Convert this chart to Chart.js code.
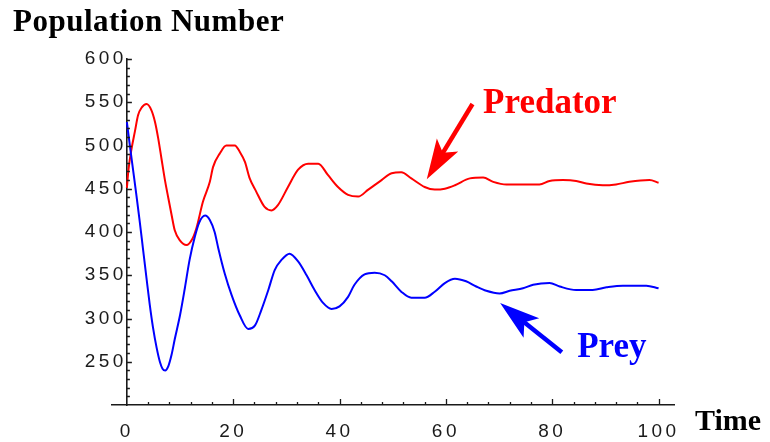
<!DOCTYPE html>
<html><head><meta charset="utf-8">
<script src="https://cdn.jsdelivr.net/npm/chart.js@4/dist/chart.umd.min.js"></script>
<style>html,body{margin:0;padding:0;background:#fff;overflow:hidden}</style>
</head><body>
<canvas id="c" width="770" height="442"></canvas>
<script>
// ---- data ----
const predatorTime   = [0, 0.3, 0.9, 1.5, 2.1, 2.8, 3.7, 4.6, 5.3, 5.9, 6.5, 7.1, 7.8, 8.4, 9.0, 10.0, 11.2, 12.3, 13.1, 14.3, 15.6, 16.2, 17.5, 18.7, 20.3, 21.2, 22.2, 23.1, 24.3, 25.9, 27.2, 28.4, 30.3, 32.2, 34.1, 36.0, 37.8, 39.7, 41.6, 43.5, 45.4, 47.9, 49.8, 51.6, 53.5, 56.0, 57.9, 59.8, 61.7, 64.5, 67.0, 68.9, 71.4, 74.5, 77.6, 79.5, 82.0, 84.5, 86.4, 89.5, 92.0, 94.5, 98.3, 100];
const predatorValues = [451, 472, 497, 516, 535, 544, 548, 541, 527, 508, 485, 462, 439, 420, 402, 390, 385, 392, 405, 435, 458, 475, 491, 500, 500, 493, 481, 462, 447, 429, 425, 431, 452, 472, 479, 479, 466, 452, 443, 441, 449, 460, 468, 469, 462, 452, 449, 450, 454, 462, 463, 458, 455, 455, 455, 459, 460, 459, 456, 454, 455, 458, 460, 457];
const preyTime   = [0, 0.6, 1.2, 1.8, 2.4, 3.0, 3.7, 4.3, 4.9, 5.6, 6.2, 6.7, 7.2, 7.8, 8.4, 9.0, 10.0, 10.9, 11.8, 12.8, 13.6, 14.7, 15.6, 16.5, 17.2, 18.4, 19.7, 21.2, 22.8, 24.1, 25.3, 26.6, 27.8, 29.1, 30.6, 32.2, 33.8, 35.3, 36.9, 38.5, 40.0, 41.6, 42.8, 44.7, 46.6, 48.5, 49.8, 51.6, 53.5, 56.0, 57.9, 59.8, 61.7, 63.8, 65.7, 67.6, 70.1, 72.0, 74.5, 76.4, 79.5, 81.4, 84.5, 87.6, 90.2, 93.3, 97.7, 100];
const preyValues = [527, 498, 470, 442, 413, 382, 346, 316, 290, 266, 250, 242, 240, 245, 258, 276, 304, 335, 368, 395, 411, 419, 414, 400, 381, 352, 327, 304, 288, 292, 310, 333, 356, 368, 375, 366, 350, 333, 318, 311, 314, 325, 339, 351, 353, 350, 343, 331, 324, 324, 331, 341, 346, 343, 337, 332, 329, 332, 335, 339, 341, 337, 333, 333, 336, 338, 338, 335];
const xTickLabels = [0, 20, 40, 60, 80, 100];
const yTickLabels = [250, 300, 350, 400, 450, 500, 550, 600];
const titleText = 'Population Number';
const xAxisTitle = 'Time';
const predatorLabel = 'Predator';
const preyLabel = 'Prey';

// annotation anchors in data units (time, population)
const predatorArrow = { tail: [65.0, 548], tip: [56.4, 461] };
const preyArrow     = { tail: [81.8, 261], tip: [70.2, 318] };
const predatorTextAt = [67.0, 537];
const preyTextAt     = [84.7, 255];

const RED = '#ff0000', BLUE = '#0000ff', AXIS = '#1a1a1a';

function pairs(ts, vs) { return ts.map((t, i) => ({ x: t, y: vs[i] })); }

function arrow(ctx, x1, y1, x2, y2, color) {
  const dx = x2 - x1, dy = y2 - y1, L = Math.hypot(dx, dy);
  const ux = dx / L, uy = dy / L, px = -uy, py = ux;
  const head = 40, half = 12.5, notch = 9;
  const bx = x2 - ux * head, by = y2 - uy * head;
  const nx = bx + ux * notch, ny = by + uy * notch;
  ctx.strokeStyle = color; ctx.fillStyle = color;
  ctx.lineWidth = 4.5; ctx.lineCap = 'butt';
  ctx.beginPath(); ctx.moveTo(x1, y1); ctx.lineTo(nx + ux * 3, ny + uy * 3); ctx.stroke();
  ctx.beginPath();
  ctx.moveTo(x2, y2);
  ctx.lineTo(bx + px * half, by + py * half);
  ctx.lineTo(nx, ny);
  ctx.lineTo(bx - px * half, by - py * half);
  ctx.closePath(); ctx.fill();
}

const decor = {
  id: 'decor',
  beforeDraw(chart) { chart.ctx.letterSpacing = '3.5px'; },
  afterDraw(chart) {
    const { ctx, scales: { x, y } } = chart;
    ctx.save();
    ctx.letterSpacing = '0px';
    // inward tick marks
    ctx.strokeStyle = AXIS; ctx.lineWidth = 1.3;
    const x0 = x.getPixelForValue(0), y0 = y.getPixelForValue(200);
    ctx.beginPath();
    for (let v = 210; v <= 600; v += 10) {
      const py = Math.round(y.getPixelForValue(v)) + 0.5;
      const len = v % 50 === 0 ? 5 : 3;
      ctx.moveTo(x0, py); ctx.lineTo(x0 + len, py);
    }
    for (let t = 4; t <= 100; t += 4) {
      const px = Math.round(x.getPixelForValue(t)) + 0.5;
      const len = t % 20 === 0 ? 6 : 3;
      ctx.moveTo(px, y0); ctx.lineTo(px, y0 - len);
    }
    ctx.stroke();

    ctx.textBaseline = 'alphabetic'; ctx.textAlign = 'left';
    // title
    ctx.fillStyle = '#000';
    ctx.font = 'bold 31px "Liberation Serif"';
    ctx.letterSpacing = '0.5px';
    ctx.fillText(titleText, 13, 31);
    ctx.letterSpacing = '0px';
    ctx.font = 'bold 30px "Liberation Serif"';
    ctx.fillText(xAxisTitle, x.right + 21, y0 + 25);

    // annotations
    ctx.font = 'bold 35px "Liberation Serif"';
    ctx.fillStyle = RED;
    ctx.fillText(predatorLabel, x.getPixelForValue(predatorTextAt[0]), y.getPixelForValue(predatorTextAt[1]));
    ctx.fillStyle = BLUE;
    ctx.fillText(preyLabel, x.getPixelForValue(preyTextAt[0]), y.getPixelForValue(preyTextAt[1]));
    arrow(ctx, x.getPixelForValue(predatorArrow.tail[0]), y.getPixelForValue(predatorArrow.tail[1]),
               x.getPixelForValue(predatorArrow.tip[0]),  y.getPixelForValue(predatorArrow.tip[1]), RED);
    arrow(ctx, x.getPixelForValue(preyArrow.tail[0]), y.getPixelForValue(preyArrow.tail[1]),
               x.getPixelForValue(preyArrow.tip[0]),  y.getPixelForValue(preyArrow.tip[1]), BLUE);
    ctx.restore();
  }
};

const tickFont = { family: '"Liberation Sans", Arial, sans-serif', size: 19 };

new Chart(document.getElementById('c'), {
  type: 'scatter',
  data: {
    datasets: [
      { label: 'Prey', data: pairs(preyTime, preyValues), borderColor: BLUE, borderWidth: 2,
        showLine: true, pointRadius: 0, tension: 0.4, cubicInterpolationMode: 'monotone' },
      { label: 'Predator', data: pairs(predatorTime, predatorValues), borderColor: RED, borderWidth: 2,
        showLine: true, pointRadius: 0, tension: 0.4, cubicInterpolationMode: 'monotone' }
    ]
  },
  options: {
    responsive: false,
    animation: false,
    devicePixelRatio: 1,
    layout: { padding: { left: 112, right: 96, top: 59, bottom: 37 } },
    plugins: { legend: { display: false }, tooltip: { enabled: false } },
    scales: {
      x: {
        type: 'linear', min: -2.8, max: 102.9, position: { y: 200 },
        afterBuildTicks: s => { s.ticks = xTickLabels.map(v => ({ value: v })); },
        grid: { display: true, drawOnChartArea: false, drawTicks: false },
        border: { display: true, color: AXIS, width: 1.6 },
        ticks: { font: tickFont, color: '#1a1a1a', padding: 15, maxRotation: 0, autoSkip: false }
      },
      y: {
        type: 'linear', min: 200, max: 600, position: { x: 0 },
        afterBuildTicks: s => { s.ticks = yTickLabels.map(v => ({ value: v })); },
        grid: { display: true, drawOnChartArea: false, drawTicks: false },
        border: { display: true, color: AXIS, width: 1.6 },
        ticks: { font: tickFont, color: '#1a1a1a', padding: 11, autoSkip: false }
      }
    }
  },
  plugins: [decor]
});
</script>
</body></html>
